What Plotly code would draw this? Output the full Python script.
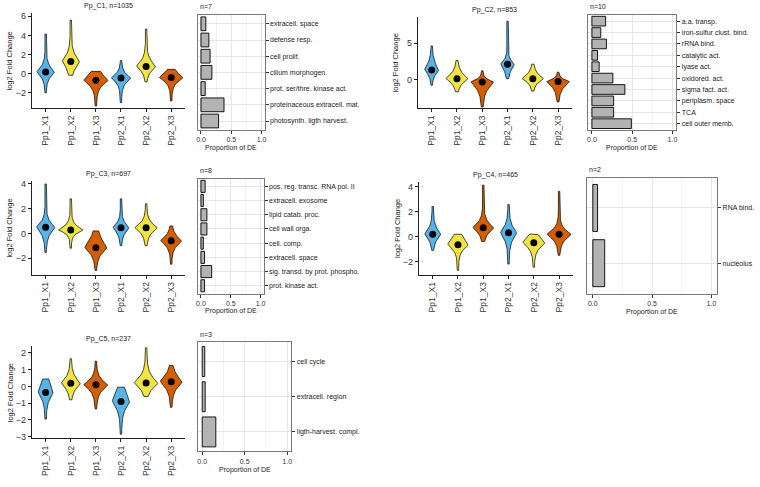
import numpy as np
import plotly.graph_objects as go

# ---------------- data ----------------
groups = ["Pp1_X1", "Pp1_X2", "Pp1_X3", "Pp2_X1", "Pp2_X2", "Pp2_X3"]
group_colors = ["#56B4E9", "#F0E442", "#D55E00", "#56B4E9", "#F0E442", "#D55E00"]

c1_title = "Pp_C1, n=1035"
c1_median = [0.17, 1.28, -0.69, -0.45, 0.76, -0.41]
c1_min = [-2.0, -0.17, -3.38, -3.03, -0.86, -2.86]
c1_max = [4.14, 5.6, 0.24, 1.38, 4.66, 0.45]
c1_q_lo = [-1.0, -0.3, -1.9, -1.55, -0.35, -1.45]
c1_q_hi = [1.4, 2.75, 0.8, 0.5, 2.07, 0.8]
c1_density = [0.71, 0.71, 0.98, 0.78, 0.78, 0.95]

c2_title = "Pp_C2, n=853"
c2_median = [1.3, 0.1, -0.35, 2.1, 0.1, -0.3]
c2_min = [-0.8, -1.7, -3.8, 0.1, -1.6, -3.1]
c2_max = [4.6, 2.6, 1.2, 8.0, 2.1, 1.0]
c2_q_lo = [-0.1, -1.3, -2.4, 0.3, -1.1, -2.0]
c2_q_hi = [3.3, 1.7, 0.4, 3.3, 1.5, 0.4]
c2_density = [0.58, 0.87, 0.9, 0.55, 0.84, 0.9]

c3_title = "Pp_C3, n=697"
c3_median = [0.5, 0.27, -1.16, 0.46, 0.46, -0.6]
c3_min = [-1.55, -1.2, -3.0, -1.0, -1.0, -2.5]
c3_max = [4.0, 2.8, 0.2, 2.8, 2.4, 0.6]
c3_q_lo = [-0.6, -0.3, -2.2, -0.46, -0.46, -1.5]
c3_q_hi = [1.4, 1.0, 0.4, 1.3, 1.3, 0.3]
c3_density = [0.75, 0.97, 0.9, 0.65, 0.9, 0.85]

c4_title = "Pp_C4, n=465"
c4_median = [0.18, -0.65, 0.7, 0.3, -0.5, 0.18]
c4_min = [-1.1, -2.7, -0.4, -2.2, -2.45, -1.5]
c4_max = [2.4, 0.18, 4.1, 2.55, 0.2, 3.6]
c4_q_lo = [-0.75, -1.5, -0.2, -0.9, -1.4, -0.75]
c4_q_hi = [1.2, 0.6, 1.6, 1.4, 0.6, 1.0]
c4_density = [0.65, 0.84, 0.84, 0.65, 0.9, 0.97]

c5_title = "Pp_C5, n=237"
c5_median = [-0.36, 0.18, 0.1, -0.9, 0.2, 0.28]
c5_min = [-1.95, -0.8, -1.35, -2.85, -0.6, -1.25]
c5_max = [0.44, 1.65, 1.5, -0.05, 2.3, 1.25]
c5_q_lo = [-1.25, -0.55, -0.65, -1.85, -0.55, -0.55]
c5_q_hi = [1.0, 0.95, 0.75, 0.5, 1.05, 1.15]
c5_density = [0.61, 0.78, 0.97, 0.71, 0.97, 0.9]

c1_terms = ["extracell. space", "defense resp.", "cell prolif.", "cilium morphogen.",
            "prot. ser/thre. kinase act.", "proteinaceous extracell. mat.", "photosynth. ligth harvest."]
c1_prop = [0.08, 0.13, 0.15, 0.18, 0.07, 0.38, 0.29]
c1_n = "n=7"

c2_terms = ["a.a. transp.", "iron-sulfur clust. bind.", "rRNA bind.", "catalytic act.", "lyase act.",
            "oxidored. act.", "sigma fact. act.", "periplasm. space", "TCA", "cell outer memb."]
c2_prop = [0.17, 0.11, 0.18, 0.07, 0.09, 0.26, 0.41, 0.27, 0.27, 0.49]
c2_n = "n=10"

c3_terms = ["pos. reg. transc. RNA pol. II", "extracell. exosome", "lipid catab. proc.", "cell wall orga.",
            "cell. comp.", "extracell. space", "sig. transd. by prot. phospho.", "prot. kinase act."]
c3_prop = [0.07, 0.04, 0.1, 0.1, 0.04, 0.06, 0.18, 0.06]
c3_n = "n=8"

c4_terms = ["RNA bind.", "nucleolus"]
c4_prop = [0.04, 0.1]
c4_n = "n=2"

c5_terms = ["cell cycle", "extracell. region", "ligth-harvest. compl."]
c5_prop = [0.03, 0.035, 0.16]
c5_n = "n=3"

# ---------------- layout helpers ----------------
W, H = 760, 487
FONT = "Liberation Sans, Arial, sans-serif"


def xd(a, b):
    return [a / W, b / W]


def yd(top, bottom):
    return [1 - bottom / H, 1 - top / H]


violin_panels = [
    dict(title=c1_title, med=c1_median, lo=c1_min, hi=c1_max, qlo=c1_q_lo, qhi=c1_q_hi, dens=c1_density,
         box=(30, 184, 12, 108), yr=[-3.6, 6.35], ticks=[-2, 0, 2, 4, 6]),
    dict(title=c2_title, med=c2_median, lo=c2_min, hi=c2_max, qlo=c2_q_lo, qhi=c2_q_hi, dens=c2_density,
         box=(418, 573, 16, 108), yr=[-3.95, 8.6], ticks=[0, 5]),
    dict(title=c3_title, med=c3_median, lo=c3_min, hi=c3_max, qlo=c3_q_lo, qhi=c3_q_hi, dens=c3_density,
         box=(30, 184, 181, 276), yr=[-3.35, 4.28], ticks=[-2, 0, 2, 4]),
    dict(title=c4_title, med=c4_median, lo=c4_min, hi=c4_max, qlo=c4_q_lo, qhi=c4_q_hi, dens=c4_density,
         box=(419, 574, 182, 276), yr=[-3.05, 4.39], ticks=[-2, 0, 2, 4]),
    dict(title=c5_title, med=c5_median, lo=c5_min, hi=c5_max, qlo=c5_q_lo, qhi=c5_q_hi, dens=c5_density,
         box=(30, 184, 348, 441), yr=[-3.1, 2.4], ticks=[-3, -2, -1, 0, 1, 2]),
]

bar_panels = [
    dict(terms=c1_terms, prop=c1_prop, n=c1_n, box=(197, 264, 14, 130), tgap=18),
    dict(terms=c2_terms, prop=c2_prop, n=c2_n, box=(589, 678, 14, 130), tgap=18),
    dict(terms=c3_terms, prop=c3_prop, n=c3_n, box=(197, 263, 179, 295), tgap=18),
    dict(terms=c4_terms, prop=c4_prop, n=c4_n, box=(588, 719, 178, 295), tgap=19),
    dict(terms=c5_terms, prop=c5_prop, n=c5_n, box=(197, 291, 344, 454), tgap=19),
]


def violin_outline(pos, ymin, ymax, med, qlo, qhi, dens):
    ys = np.linspace(ymin, ymax, 240)
    s_lo = max(med - qlo, 0.05) / 1.8
    s_hi = max(qhi - med, 0.05) / 1.8
    d = np.where(ys < med, (med - ys) / s_lo, (ys - med) / s_hi)
    prof = 0.84 * np.exp(-d ** 1.2) + 0.16 * np.exp(-d / 3)
    half = np.maximum(dens / 2 * prof, 0.028)
    x = np.concatenate([pos - half, (pos + half)[::-1], [pos - half[0]]])
    y = np.concatenate([ys, ys[::-1], [ys[0]]])
    return x, y


fig = go.Figure()
layout = dict(width=W, height=H, margin=dict(l=0, r=0, t=0, b=0), showlegend=False,
              paper_bgcolor="white", plot_bgcolor="white", font=dict(family=FONT, color="#222"))
annotations = []


def ann(text, x, y, size, angle=0, xanchor="center", yanchor="middle", color="#222"):
    annotations.append(dict(text=text, x=x / W, y=1 - y / H, xref="paper", yref="paper",
                            showarrow=False, textangle=angle, xanchor=xanchor, yanchor=yanchor,
                            font=dict(size=size, family=FONT, color=color)))


ax = 0
for p in violin_panels:
    ax += 1
    xa, ya = ("x" if ax == 1 else f"x{ax}"), ("y" if ax == 1 else f"y{ax}")
    x0, x1, t, b = p["box"]
    for i, g in enumerate(groups):
        vx, vy = violin_outline(i + 1, p["lo"][i], p["hi"][i], p["med"][i], p["qlo"][i], p["qhi"][i], p["dens"][i])
        fig.add_trace(go.Scatter(x=vx, y=vy, mode="lines", fill="toself", fillcolor=group_colors[i],
                                 line=dict(color="black", width=0.7), xaxis=xa, yaxis=ya, hoverinfo="skip"))
    fig.add_trace(go.Scatter(x=list(range(1, 7)), y=p["med"], mode="markers",
                             marker=dict(color="black", size=7), xaxis=xa, yaxis=ya))
    layout["xaxis" if ax == 1 else f"xaxis{ax}"] = dict(
        domain=xd(x0, x1), anchor=ya, range=[0.45, 6.55], tickvals=list(range(1, 7)), ticktext=groups,
        tickangle=-90, showline=True, linecolor="#222", linewidth=1, ticks="outside", ticklen=3,
        tickcolor="#222", tickfont=dict(size=8.5, color="#333"), showgrid=False, zeroline=False)
    layout["yaxis" if ax == 1 else f"yaxis{ax}"] = dict(
        domain=yd(t, b), anchor=xa, range=p["yr"], tickvals=p["ticks"], showline=True, linecolor="#222",
        linewidth=1, ticks="outside", ticklen=3, tickcolor="#222", tickfont=dict(size=9, color="#333"),
        showgrid=False, zeroline=False)
    ann(p["title"], (x0 + x1) / 2, t - 7, 7)
    ann("log2 Fold Change", x0 - 22, (t + b) / 2, 7.5, angle=-90)

for p in bar_panels:
    ax += 1
    xa, ya = f"x{ax}", f"y{ax}"
    x0, x1, t, b = p["box"]
    n = len(p["terms"])
    fig.add_trace(go.Bar(x=p["prop"], y=p["terms"], orientation="h", width=0.85,
                         marker=dict(color="#B3B3B3", line=dict(color="black", width=0.9)),
                         xaxis=xa, yaxis=ya))
    layout[f"xaxis{ax}"] = dict(
        domain=xd(x0, x1), anchor=ya, range=[-0.05, 1.05], tickvals=[0, 0.5, 1.0],
        ticktext=["0.0", "0.5", "1.0"], showgrid=True, gridcolor="#E6E6E6", gridwidth=1,
        minor=dict(tickvals=[0.25, 0.75], showgrid=True, gridcolor="#F3F3F3", gridwidth=0.6),
        showline=True, mirror=True, linecolor="#7A7A7A", linewidth=1, ticks="outside", ticklen=3,
        tickcolor="#333", tickfont=dict(size=7, color="#333"), zeroline=False)
    layout[f"yaxis{ax}"] = dict(
        domain=yd(t, b), anchor=xa, type="category", categoryorder="array", categoryarray=p["terms"],
        range=[n - 1 + 0.55, -0.55], side="right", showgrid=True, gridcolor="#E6E6E6", gridwidth=1,
        showline=True, mirror=True, linecolor="#7A7A7A", linewidth=1, ticks="outside", ticklen=3,
        tickcolor="#333", tickfont=dict(size=7, color="#222"), zeroline=False)
    ann(p["n"], x0, t - 8, 7, xanchor="left")
    ann("Proportion of DE", (x0 + x1) / 2, b + p["tgap"], 7)

layout["annotations"] = annotations
fig.update_layout(**layout)
fig.write_html("out.html", config={"displayModeBar": False},
               post_script="document.body.style.margin='0';document.body.style.overflow='hidden';")
